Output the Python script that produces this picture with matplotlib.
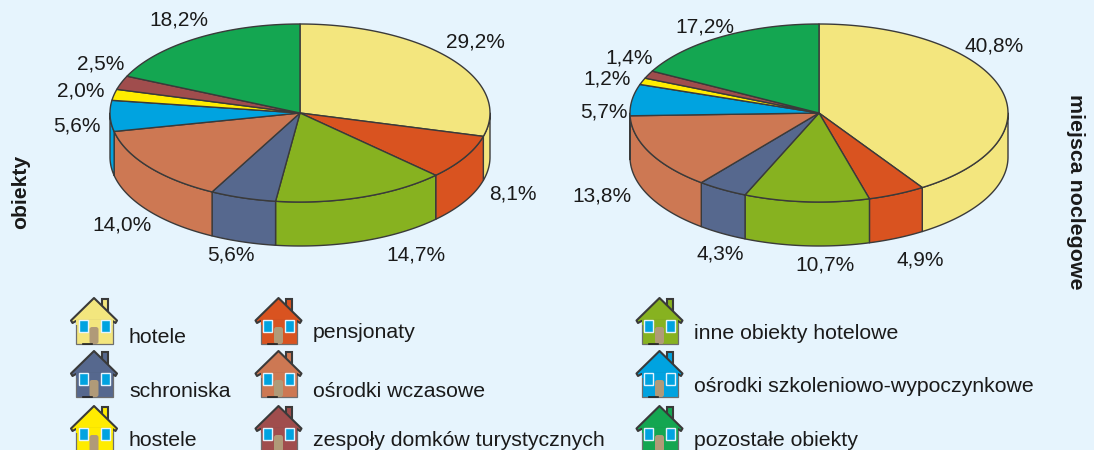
import numpy as np
import matplotlib
matplotlib.use("Agg")
import matplotlib.pyplot as plt
from matplotlib.patches import Polygon, FancyBboxPatch, Rectangle

plt.rcParams['font.family'] = ['Liberation Sans', 'DejaVu Sans']

categories = ["hotele", "pensjonaty", "inne obiekty hotelowe", "schroniska", "ośrodki wczasowe",
              "ośrodki szkoleniowo-wypoczynkowe", "hostele", "zespoły domków turystycznych", "pozostałe obiekty"]
obiekty = [29.2, 8.1, 14.7, 5.6, 14.0, 5.6, 2.0, 2.5, 18.2]
miejsca = [40.8, 4.9, 10.7, 4.3, 13.8, 5.7, 1.2, 1.4, 17.2]
colors = ["#F3E67E", "#D95320", "#87B220", "#56688E", "#CD7853", "#00A3E0", "#FFEC00", "#A04D4D", "#14A651"]

BG = "#E6F4FD"
EDGE = "#3A3A3A"
TXT = "#1A1A1A"

label_pos_left = [(475, 42), (513, 194), (416, 255), (231, 255), (122, 225), (77, 126), (81, 91), (101, 64), (179, 20)]
label_pos_right = [(994, 46), (920, 260), (825, 265), (720, 254), (602, 196), (604, 112), (607, 79), (629, 58), (705, 27)]

legend_houses = {"hotele": (71, 298), "schroniska": (71, 351), "hostele": (71, 406),
                 "pensjonaty": (255.5, 298), "ośrodki wczasowe": (255.5, 351), "zespoły domków turystycznych": (255.5, 406),
                 "inne obiekty hotelowe": (636.5, 298), "ośrodki szkoleniowo-wypoczynkowe": (636.5, 351), "pozostałe obiekty": (636.5, 406)}
legend_text = {"hotele": (129, 343), "schroniska": (129, 397), "hostele": (129, 446),
               "pensjonaty": (313, 338), "ośrodki wczasowe": (313, 397), "zespoły domków turystycznych": (313, 446),
               "inne obiekty hotelowe": (694, 339), "ośrodki szkoleniowo-wypoczynkowe": (694, 392), "pozostałe obiekty": (694, 446)}

fig = plt.figure(figsize=(10.94, 4.5), dpi=100, facecolor=BG)
ax = fig.add_axes([0, 0, 1, 1])
ax.set_xlim(0, 1094)
ax.set_ylim(450, 0)
ax.axis("off")


def pie3d(values, cx, cy, rx, ry, depth, label_pos):
    fr = np.cumsum([0] + list(values)) / sum(values) * 2 * np.pi
    def pt(a):
        return cx + rx * np.sin(a), cy - ry * np.cos(a)
    for i, c in enumerate(colors):
        a0, a1 = max(fr[i], np.pi / 2), min(fr[i + 1], 3 * np.pi / 2)
        if a1 <= a0:
            continue
        t = np.linspace(a0, a1, 80)
        x, y = pt(t)
        verts = np.r_[np.c_[x, y], np.c_[x[::-1], y[::-1] + depth]]
        ax.add_patch(Polygon(verts, closed=True, fc=c, ec=EDGE, lw=1.0, joinstyle="round", zorder=2))
    for i, c in enumerate(colors):
        t = np.linspace(fr[i], fr[i + 1], 120)
        x, y = pt(t)
        verts = np.r_[[[cx, cy]], np.c_[x, y]]
        ax.add_patch(Polygon(verts, closed=True, fc=c, ec=EDGE, lw=1.0, joinstyle="round", zorder=3))
    for v, (lx, ly) in zip(values, label_pos):
        ax.text(lx, ly, f"{v:.1f}%".replace(".", ","), ha="center", va="center",
                fontsize=15, color=TXT, zorder=5)


def house(x0, y0, c):
    def P(pts, **kw):
        ax.add_patch(Polygon([(x0 + a, y0 + b) for a, b in pts], closed=True, **kw))
    P([(30.5, 0.5), (36.5, 0.5), (36.5, 18), (30.5, 18)], fc=c, ec=EDGE, lw=1.5, zorder=3)
    P([(5, 22), (5, 46), (41.5, 46), (41.5, 22)], fc=c, ec="#6E6E6E", lw=0.9, zorder=3)
    P([(0, 22.5), (23, 0), (46, 22.5), (44.5, 25), (41.5, 23), (5, 23), (1.5, 25)],
      fc=c, ec=EDGE, lw=1.5, joinstyle="round", zorder=4)
    P([(5, 22), (41.5, 22), (41.5, 27), (5, 27)], fc=c, ec="none", zorder=4)
    for wx in (7.5, 29.5):
        ax.add_patch(Rectangle((x0 + wx, y0 + 22), 9, 12, fc="#00A3E0", ec="#E6F4FD", lw=1.0, zorder=5))
    ax.add_patch(FancyBboxPatch((x0 + 18.5, y0 + 29), 9, 17, boxstyle="round,pad=0,rounding_size=2.5",
                                fc="#B09A78", ec="none", zorder=5))
    ax.plot([x0 + 12, x0 + 21], [y0 + 46, y0 + 46], color="#222222", lw=1.2, zorder=5)


pie3d(obiekty, 300, 113, 190, 89, 44, label_pos_left)
pie3d(miejsca, 819, 113, 189, 89, 44, label_pos_right)

for name, col in zip(categories, colors):
    hx, hy = legend_houses[name]
    house(hx, hy, col)
    tx, ty = legend_text[name]
    ax.text(tx, ty, name, ha="left", va="baseline", fontsize=15.3, color=TXT, zorder=6)

ax.text(21, 191.5, "obiekty", rotation=90, ha="center", va="center", fontsize=15.2, fontweight="bold", color=TXT)
ax.text(1075, 192, "miejsca noclegowe", rotation=-90, ha="center", va="center", fontsize=15.4, fontweight="bold", color=TXT)

fig.savefig("out.png", dpi=100, facecolor=BG)
